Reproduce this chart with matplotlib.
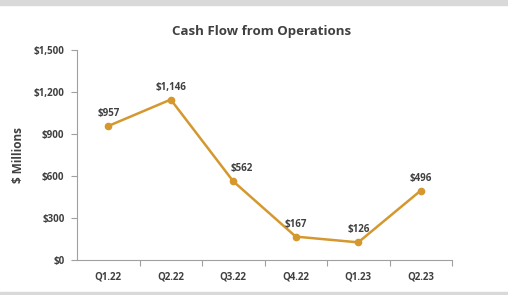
import matplotlib.pyplot as plt
import matplotlib.patches as patches
import numpy as np

quarters = ["Q1.22", "Q2.22", "Q3.22", "Q4.22", "Q1.23", "Q2.23"]
cash_flow = [957, 1146, 562, 167, 126, 496]
y_ticks = [0, 300, 600, 900, 1200, 1500]

plt.rcParams['font.family'] = ['Open Sans', 'DejaVu Sans']

text_color = "#404040"
line_color = "#D4982E"

fig = plt.figure(figsize=(5.08, 2.95), dpi=100)
ax = fig.add_axes([77 / 508, 1 - 260 / 295, 375 / 508, 210 / 295])

# gray frame bands top and bottom
fig.patches.append(patches.Rectangle((0, 1 - 5 / 295), 1, 5 / 295, transform=fig.transFigure,
                                     color="#d9d9d9", zorder=0))
fig.patches.append(patches.Rectangle((0, 0), 1, 3 / 295, transform=fig.transFigure,
                                     color="#d9d9d9", zorder=0))

x = np.arange(len(quarters))
ax.plot(x, cash_flow, color=line_color, linewidth=1.8, marker="o", markersize=4.5)

for xi, v in zip(x, cash_flow):
    dx = 6 if v == 562 else 0  # this label sits right of the line in the original
    ax.annotate(f"${v:,}", (xi, v), textcoords="offset points", xytext=(dx, 5),
                ha="center", va="bottom", fontsize=7, fontweight="bold", color=text_color)

ax.set_xlim(-0.5, len(quarters) - 0.5)
ax.set_ylim(0, 1500)
ax.set_yticks(y_ticks)
ax.set_yticklabels([f"${v:,}" for v in y_ticks])
ax.set_xticks(x)
ax.set_xticklabels(quarters)
ax.set_xticks(np.arange(len(quarters)) + 0.5, minor=True)

ax.tick_params(axis="x", which="major", length=0, pad=8)
ax.tick_params(axis="x", which="minor", length=4, color="#a0a0a0", width=0.8)
ax.tick_params(axis="y", length=4, color="#a0a0a0", width=0.8, pad=5)
for lbl in ax.get_xticklabels() + ax.get_yticklabels():
    lbl.set_fontsize(7)
    lbl.set_fontweight("bold")
    lbl.set_color(text_color)

for side in ["top", "right"]:
    ax.spines[side].set_visible(False)
for side in ["left", "bottom"]:
    ax.spines[side].set_color("#a0a0a0")
    ax.spines[side].set_linewidth(0.8)

ax.set_ylabel("$ Millions", fontsize=8.5, fontweight="bold", color=text_color, labelpad=6)
fig.text(262 / 508, 1 - 32 / 295, "Cash Flow from Operations", ha="center", va="center",
         fontsize=9.5, fontweight="bold", color=text_color)

fig.savefig("out.png", dpi=100)
